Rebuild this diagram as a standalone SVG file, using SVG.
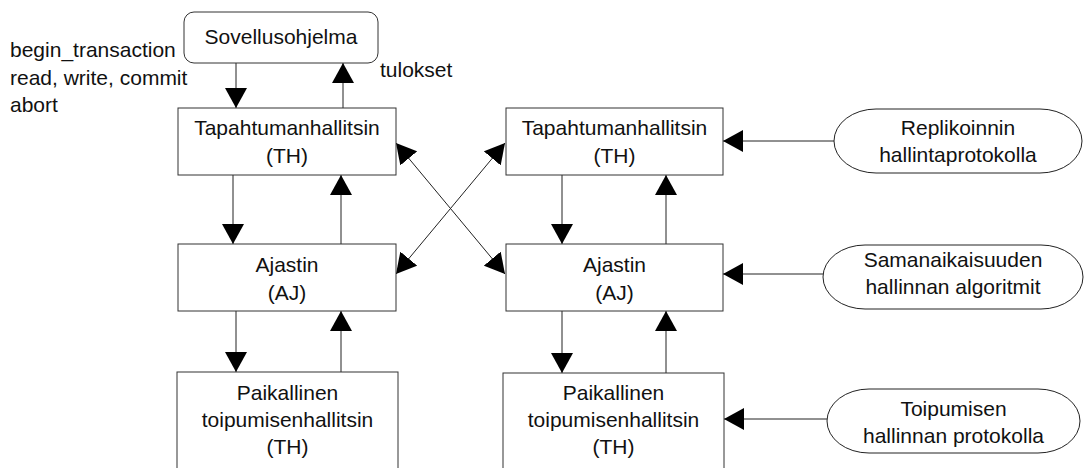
<svg xmlns="http://www.w3.org/2000/svg" width="1085" height="468" viewBox="0 0 1085 468">
  <style>
    .box { fill: #fff; stroke: #333; stroke-width: 1; }
    .oval { fill: #fff; stroke: #222; stroke-width: 1; }
    .lbl { font-family: "Liberation Sans", Arial, sans-serif; font-size: 21px; fill: #111; }
    .mid { text-anchor: middle; }
    .edge { stroke: #222; stroke-width: 1; fill: none; marker-end: url(#head); }
    .edge2 { stroke: #222; stroke-width: 1; fill: none; marker-end: url(#head); marker-start: url(#head); }
  </style>
  <defs>
    <marker id="head" viewBox="0 0 20 22" refX="20" refY="11" markerWidth="20" markerHeight="22" markerUnits="userSpaceOnUse" orient="auto-start-reverse">
      <path d="M0,0 L20,11 L0,22 Z" fill="#000"/>
    </marker>
  </defs>
  <rect width="1085" height="468" fill="#fff"/>

  <!-- operation labels beside the application -->
  <g id="ops-labels" class="lbl">
    <text x="10" y="57">begin_transaction</text>
    <text x="10" y="85">read, write, commit</text>
    <text x="10" y="112">abort</text>
    <text x="380" y="77">tulokset</text>
  </g>

  <g id="connectors">
    <line class="edge" x1="236" y1="63" x2="236" y2="108"/>
    <line class="edge" x1="343" y1="108" x2="343" y2="63"/>
    <line class="edge" x1="233" y1="175" x2="233" y2="244"/>
    <line class="edge" x1="341" y1="244" x2="341" y2="175"/>
    <line class="edge" x1="236" y1="311" x2="236" y2="372"/>
    <line class="edge" x1="341" y1="372" x2="341" y2="311"/>
    <line class="edge" x1="562" y1="175" x2="562" y2="244"/>
    <line class="edge" x1="666" y1="244" x2="666" y2="175"/>
    <line class="edge" x1="562" y1="311" x2="562" y2="373"/>
    <line class="edge" x1="666" y1="373" x2="666" y2="311"/>
    <line class="edge" x1="834" y1="141" x2="723" y2="141"/>
    <line class="edge" x1="823" y1="274" x2="723" y2="274"/>
    <line class="edge" x1="827" y1="419" x2="724" y2="419"/>
    <line class="edge2" x1="396" y1="143" x2="505" y2="274"/>
    <line class="edge2" x1="505" y1="143" x2="396" y2="274"/>
  </g>

  <g id="sovellusohjelma">
    <rect class="box" x="184" y="12" width="194" height="51" rx="10" ry="10"/>
    <text class="lbl mid" x="281" y="44">Sovellusohjelma</text>
  </g>

  <g id="th-left">
    <rect class="box" x="178" y="108" width="218" height="67"/>
    <text class="lbl mid" x="287" y="135">Tapahtumanhallitsin</text>
    <text class="lbl mid" x="287" y="163">(TH)</text>
  </g>

  <g id="aj-left">
    <rect class="box" x="178" y="244" width="218" height="67"/>
    <text class="lbl mid" x="287" y="272">Ajastin</text>
    <text class="lbl mid" x="287" y="300">(AJ)</text>
  </g>

  <g id="ptm-left">
    <rect class="box" x="177" y="372" width="221" height="110"/>
    <text class="lbl mid" x="287.5" y="400">Paikallinen</text>
    <text class="lbl mid" x="287.5" y="427">toipumisenhallitsin</text>
    <text class="lbl mid" x="287.5" y="454">(TH)</text>
  </g>

  <g id="th-right">
    <rect class="box" x="506" y="108" width="217" height="67"/>
    <text class="lbl mid" x="614.5" y="135">Tapahtumanhallitsin</text>
    <text class="lbl mid" x="614.5" y="163">(TH)</text>
  </g>

  <g id="aj-right">
    <rect class="box" x="506" y="244" width="217" height="67"/>
    <text class="lbl mid" x="614.5" y="272">Ajastin</text>
    <text class="lbl mid" x="614.5" y="300">(AJ)</text>
  </g>

  <g id="ptm-right">
    <rect class="box" x="503" y="373" width="221" height="110"/>
    <text class="lbl mid" x="613.5" y="400">Paikallinen</text>
    <text class="lbl mid" x="613.5" y="427">toipumisenhallitsin</text>
    <text class="lbl mid" x="613.5" y="454">(TH)</text>
  </g>

  <g id="replikointi">
    <rect class="oval" x="834" y="109" width="248" height="64" rx="42" ry="32"/>
    <text class="lbl mid" x="958" y="135">Replikoinnin</text>
    <text class="lbl mid" x="958" y="162">hallintaprotokolla</text>
  </g>

  <g id="samanaikaisuus">
    <rect class="oval" x="823" y="245" width="260" height="64" rx="42" ry="32"/>
    <text class="lbl mid" x="953" y="267">Samanaikaisuuden</text>
    <text class="lbl mid" x="953" y="294">hallinnan algoritmit</text>
  </g>

  <g id="toipuminen">
    <rect class="oval" x="827" y="389" width="253" height="64" rx="42" ry="32"/>
    <text class="lbl mid" x="953.5" y="416">Toipumisen</text>
    <text class="lbl mid" x="953.5" y="443">hallinnan protokolla</text>
  </g>
</svg>
